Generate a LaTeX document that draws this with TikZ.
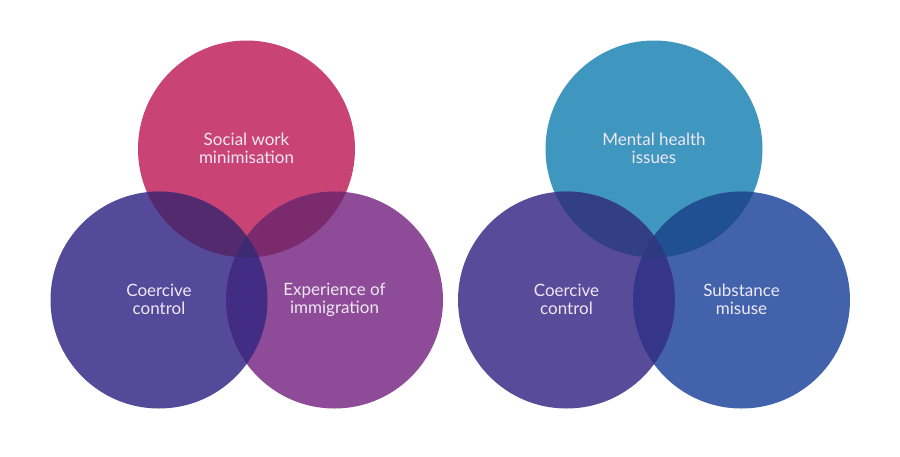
\documentclass[tikz,border=0pt]{standalone}
\usepackage{fontspec}
\setmainfont{Lato}
\definecolor{cPink}{HTML}{C94375}
\definecolor{cCoer}{HTML}{554A99}
\definecolor{cImm}{HTML}{8E4B97}
\definecolor{cPinkCoer}{HTML}{542A6E}
\definecolor{cPinkImm}{HTML}{7C2A6E}
\definecolor{cCoerImm}{HTML}{432D84}
\definecolor{cTripL}{HTML}{3E2A70}
\definecolor{cMent}{HTML}{3F96BF}
\definecolor{cCoer2}{HTML}{584B9A}
\definecolor{cSubs}{HTML}{4263AB}
\definecolor{cMentCoer}{HTML}{323F85}
\definecolor{cMentSubs}{HTML}{205091}
\definecolor{cCoerSubs}{HTML}{353589}
\definecolor{cTripR}{HTML}{2E3A80}
\definecolor{cText}{HTML}{EEE8F4}
\tikzset{
  venn/.style={circle, minimum size=217pt, inner sep=0pt, text=cText,
    align=center, font=\fontsize{17}{18}\selectfont},
}
\begin{document}
\begin{tikzpicture}[x=1pt,y=-1pt]
\useasboundingbox (0,0) rectangle (900,456);
\fill[white] (0,0) rectangle (900,456);
% left diagram
\node[venn, fill=cPink] (sw) at (246.5,149) {};
\node[venn, fill=cCoer] (cc1) at (159,300) {};
\node[venn, fill=cImm] (im) at (334.5,300) {};
\begin{scope}\clip (sw.center) circle (108.5);\fill[cPinkCoer] (cc1.center) circle (108.5);\end{scope}
\begin{scope}\clip (sw.center) circle (108.5);\fill[cPinkImm] (im.center) circle (108.5);\end{scope}
\begin{scope}\clip (cc1.center) circle (108.5);\fill[cCoerImm] (im.center) circle (108.5);\end{scope}
\begin{scope}\clip (sw.center) circle (108.5);\clip (cc1.center) circle (108.5);\fill[cTripL] (im.center) circle (108.5);\end{scope}
\node[venn] (swt) at ([yshift=0.5]sw.center) {Social work\\minimisation};
\node[venn] (cc1t) at ([yshift=0.5]cc1.center) {Coercive\\control};
\node[venn] (imt) at ([yshift=0.5]im.center) {Experience of\\immigration};
% right diagram
\node[venn, fill=cMent] (mh) at (654,149) {};
\node[venn, fill=cCoer2] (cc2) at (566.5,300) {};
\node[venn, fill=cSubs] (sm) at (741.5,300) {};
\begin{scope}\clip (mh.center) circle (108.5);\fill[cMentCoer] (cc2.center) circle (108.5);\end{scope}
\begin{scope}\clip (mh.center) circle (108.5);\fill[cMentSubs] (sm.center) circle (108.5);\end{scope}
\begin{scope}\clip (cc2.center) circle (108.5);\fill[cCoerSubs] (sm.center) circle (108.5);\end{scope}
\begin{scope}\clip (mh.center) circle (108.5);\clip (cc2.center) circle (108.5);\fill[cTripR] (sm.center) circle (108.5);\end{scope}
\node[venn] (mht) at ([yshift=0.5]mh.center) {Mental health\\issues};
\node[venn] (cc2t) at ([yshift=0.5]cc2.center) {Coercive\\control};
\node[venn] (smt) at ([yshift=0.5]sm.center) {Substance\\misuse};
\end{tikzpicture}
\end{document}
